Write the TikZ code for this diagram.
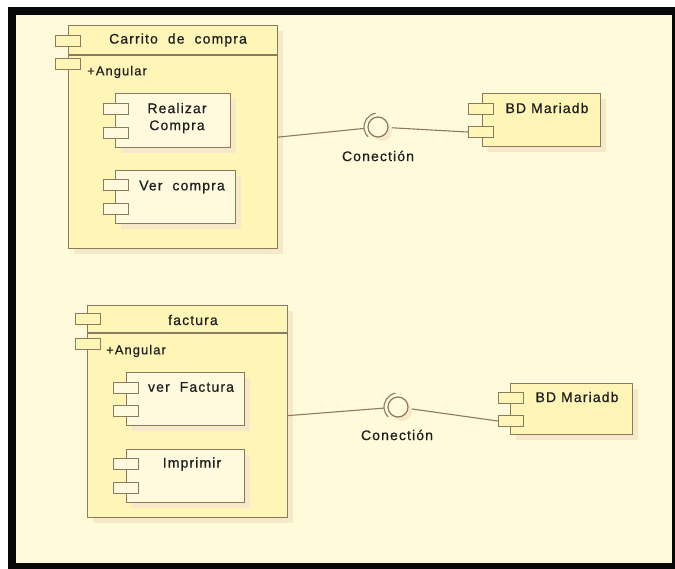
\documentclass[tikz,border=0pt]{standalone}
\usepackage{fontspec}
\setmainfont[LetterSpace=8,FakeBold=0.6]{Liberation Sans}
\usetikzlibrary{shadows}
\definecolor{frame}{RGB}{8,8,8}
\definecolor{paper}{RGB}{255,250,218}
\definecolor{compfill}{RGB}{255,245,182}
\definecolor{partfill}{RGB}{255,249,222}
\definecolor{edge}{RGB}{140,122,95}
\definecolor{shade}{RGB}{248,232,202}
\definecolor{ink}{RGB}{30,30,30}
\begin{document}
\begin{tikzpicture}[x=1pt,y=-1pt,every node/.style={font=\fontsize{14}{17}\selectfont,text=ink,inner sep=0pt},
  comp/.style={draw=edge,fill=compfill,line width=1.2pt,anchor=north west,general shadow={fill=shade,shadow xshift=5pt,shadow yshift=-5pt}},
  part/.style={comp,fill=partfill},
  port/.style={draw=edge,line width=1.1pt,minimum width=25pt,minimum height=11pt,anchor=north west},
  tag/.style={anchor=west,font=\fontsize{13}{15}\selectfont},
  wire/.style={draw=edge,line width=1.1pt}]
  \useasboundingbox (0,0) rectangle (675,569);
  \fill[frame] (8,7) rectangle (675,569);
  \fill[paper] (16,15) rectangle (672,563);
  % carrito de compra
  \node[comp,minimum width=209pt,minimum height=223pt] (carrito) at (68,25) {};
  \draw[wire] ([yshift=-30pt]carrito.north west) -- ([yshift=-30pt]carrito.north east);
  \foreach \y [count=\i] in {35,58}{\node[port,fill=compfill] (carritoport\i) at (55,\y) {};}
  \node (carritoname) at (178,40) {Carrito~ de~ compra};
  \node[tag] (carritotag) at (87,72) {+Angular};
  \node[part,minimum width=115pt,minimum height=54pt] (realizar) at (115,93) {};
  \foreach \y [count=\i] in {103,127}{\node[port,fill=partfill] (realizarport\i) at (103,\y) {};}
  \node[align=center] (realizarname) at (177,118) {Realizar\\Compra};
  \node[part,minimum width=120pt,minimum height=53pt] (vercompra) at (115,170) {};
  \foreach \y [count=\i] in {179,203}{\node[port,fill=partfill] (vercompraport\i) at (103,\y) {};}
  \node (vercompraname) at (182,187) {Ver~ compra};
  % base de datos 1
  \node[comp,minimum width=118pt,minimum height=53pt] (bd1) at (482,93) {};
  \foreach \y [count=\i] in {103,126}{\node[port,fill=compfill] (bd1port\i) at (468,\y) {};}
  \node (bd1name) at (547,108) {BD Mariadb};
  \node[circle,draw=edge,fill=paper,line width=1.2pt,minimum size=20pt,outer sep=4pt,general shadow={fill=shade,shadow xshift=4pt,shadow yshift=-4pt}] (ball1) at (378,127) {};
  \draw[wire] (ball1.center) ++(260:14) arc[start angle=260,end angle=135,radius=14];
  \node (conn1) at (378,156) {Conectión};
  \draw[wire] (carrito.east) -- (ball1);
  \draw[wire] (ball1) -- (bd1port2.west);
  % factura
  \node[comp,minimum width=200pt,minimum height=212pt] (factura) at (87,305) {};
  \draw[wire] ([yshift=-28pt]factura.north west) -- ([yshift=-28pt]factura.north east);
  \foreach \y [count=\i] in {313,338}{\node[port,fill=compfill] (facturaport\i) at (75,\y) {};}
  \node (facturaname) at (193,320) {factura};
  \node[tag] (facturatag) at (106,351) {+Angular};
  \node[part,minimum width=118pt,minimum height=53pt] (verfactura) at (126,372) {};
  \foreach \y [count=\i] in {382,405}{\node[port,fill=partfill] (verfacturaport\i) at (113,\y) {};}
  \node (verfacturaname) at (191,387) {ver~ Factura};
  \node[part,minimum width=118pt,minimum height=53pt] (imprimir) at (126,449) {};
  \foreach \y [count=\i] in {458,482}{\node[port,fill=partfill] (imprimirport\i) at (113,\y) {};}
  \node (imprimirname) at (192,464) {Imprimir};
  % base de datos 2
  \node[comp,minimum width=122pt,minimum height=51pt] (bd2) at (510,383) {};
  \foreach \y [count=\i] in {392,415}{\node[port,fill=compfill] (bd2port\i) at (498,\y) {};}
  \node (bd2name) at (577,397) {BD Mariadb};
  \node[circle,draw=edge,fill=paper,line width=1.2pt,minimum size=20pt,outer sep=4pt,general shadow={fill=shade,shadow xshift=4pt,shadow yshift=-4pt}] (ball2) at (398,407) {};
  \draw[wire] (ball2.center) ++(260:14) arc[start angle=260,end angle=135,radius=14];
  \node (conn2) at (397,435) {Conectión};
  \draw[wire] ([yshift=-4pt]factura.east) -- (ball2);
  \draw[wire] (ball2) -- (bd2port2.west);
\end{tikzpicture}
\end{document}
